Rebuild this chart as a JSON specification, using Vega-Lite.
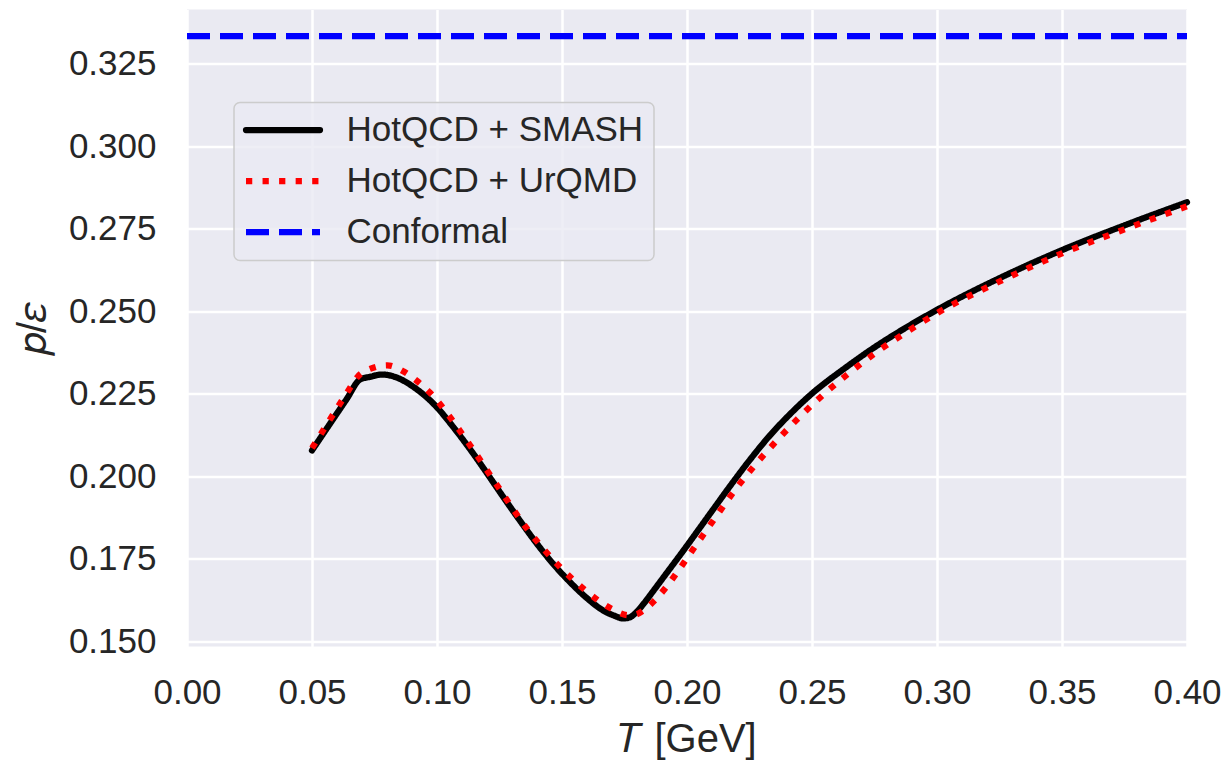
{
  "$schema": "https://vega.github.io/schema/vega-lite/v6.json",
  "width": 1000,
  "height": 637,
  "autosize": {"type": "none"},
  "padding": {"left": 187, "top": 9.5, "right": 43, "bottom": 116.5},
  "background": "white",
  "config": {
    "view": {"fill": "#EAEAF2", "stroke": null},
    "font": "Liberation Sans",
    "axis": {
      "grid": true,
      "gridColor": "#FFFFFF",
      "gridWidth": 2.5,
      "domain": false,
      "ticks": false,
      "labelFlush": false,
      "labelFont": "Liberation Sans",
      "labelFontSize": 35,
      "labelColor": "#262626",
      "titleFont": "Liberation Sans",
      "titleFontSize": 40,
      "titleColor": "#262626",
      "titleFontWeight": "normal"
    },
    "legend": {
      "labelFont": "Liberation Sans",
      "labelFontSize": 35,
      "labelColor": "#262626",
      "labelLimit": 500
    }
  },
  "data": {
    "values": [
      {"series": "HotQCD + SMASH", "T": 0.050, "pe": 0.2078},
      {"series": "HotQCD + SMASH", "T": 0.0572, "pe": 0.2159},
      {"series": "HotQCD + SMASH", "T": 0.0639, "pe": 0.2234},
      {"series": "HotQCD + SMASH", "T": 0.0692, "pe": 0.2293},
      {"series": "HotQCD + SMASH", "T": 0.0732, "pe": 0.2301},
      {"series": "HotQCD + SMASH", "T": 0.0779, "pe": 0.2308},
      {"series": "HotQCD + SMASH", "T": 0.0839, "pe": 0.2299},
      {"series": "HotQCD + SMASH", "T": 0.0905, "pe": 0.2271},
      {"series": "HotQCD + SMASH", "T": 0.0992, "pe": 0.2215},
      {"series": "HotQCD + SMASH", "T": 0.1065, "pe": 0.2149},
      {"series": "HotQCD + SMASH", "T": 0.1132, "pe": 0.2082},
      {"series": "HotQCD + SMASH", "T": 0.1199, "pe": 0.2010},
      {"series": "HotQCD + SMASH", "T": 0.1265, "pe": 0.1937},
      {"series": "HotQCD + SMASH", "T": 0.1332, "pe": 0.1865},
      {"series": "HotQCD + SMASH", "T": 0.1399, "pe": 0.1796},
      {"series": "HotQCD + SMASH", "T": 0.1465, "pe": 0.1734},
      {"series": "HotQCD + SMASH", "T": 0.1532, "pe": 0.1679},
      {"series": "HotQCD + SMASH", "T": 0.1599, "pe": 0.1631},
      {"series": "HotQCD + SMASH", "T": 0.1665, "pe": 0.1593},
      {"series": "HotQCD + SMASH", "T": 0.1710, "pe": 0.1577},
      {"series": "HotQCD + SMASH", "T": 0.1745, "pe": 0.1569},
      {"series": "HotQCD + SMASH", "T": 0.1770, "pe": 0.1572},
      {"series": "HotQCD + SMASH", "T": 0.1795, "pe": 0.1586},
      {"series": "HotQCD + SMASH", "T": 0.1825, "pe": 0.1612},
      {"series": "HotQCD + SMASH", "T": 0.1865, "pe": 0.1652},
      {"series": "HotQCD + SMASH", "T": 0.1920, "pe": 0.1708},
      {"series": "HotQCD + SMASH", "T": 0.1985, "pe": 0.1774},
      {"series": "HotQCD + SMASH", "T": 0.2050, "pe": 0.1842},
      {"series": "HotQCD + SMASH", "T": 0.2111, "pe": 0.1906},
      {"series": "HotQCD + SMASH", "T": 0.2180, "pe": 0.1978},
      {"series": "HotQCD + SMASH", "T": 0.2250, "pe": 0.2048},
      {"series": "HotQCD + SMASH", "T": 0.2330, "pe": 0.2122},
      {"series": "HotQCD + SMASH", "T": 0.2416, "pe": 0.2191},
      {"series": "HotQCD + SMASH", "T": 0.2501, "pe": 0.2251},
      {"series": "HotQCD + SMASH", "T": 0.2631, "pe": 0.2327},
      {"series": "HotQCD + SMASH", "T": 0.2753, "pe": 0.2392},
      {"series": "HotQCD + SMASH", "T": 0.2860, "pe": 0.2443},
      {"series": "HotQCD + SMASH", "T": 0.3000, "pe": 0.2504},
      {"series": "HotQCD + SMASH", "T": 0.3250, "pe": 0.2600},
      {"series": "HotQCD + SMASH", "T": 0.3500, "pe": 0.2685},
      {"series": "HotQCD + SMASH", "T": 0.3750, "pe": 0.2760},
      {"series": "HotQCD + SMASH", "T": 0.4000, "pe": 0.2830},

      {"series": "HotQCD + UrQMD", "T": 0.050, "pe": 0.2085},
      {"series": "HotQCD + UrQMD", "T": 0.0572, "pe": 0.2172},
      {"series": "HotQCD + UrQMD", "T": 0.0645, "pe": 0.2259},
      {"series": "HotQCD + UrQMD", "T": 0.0681, "pe": 0.2300},
      {"series": "HotQCD + UrQMD", "T": 0.0735, "pe": 0.2326},
      {"series": "HotQCD + UrQMD", "T": 0.0801, "pe": 0.2336},
      {"series": "HotQCD + UrQMD", "T": 0.0865, "pe": 0.2318},
      {"series": "HotQCD + UrQMD", "T": 0.0919, "pe": 0.2289},
      {"series": "HotQCD + UrQMD", "T": 0.0969, "pe": 0.2255},
      {"series": "HotQCD + UrQMD", "T": 0.1015, "pe": 0.2216},
      {"series": "HotQCD + UrQMD", "T": 0.1055, "pe": 0.2176},
      {"series": "HotQCD + UrQMD", "T": 0.1132, "pe": 0.2094},
      {"series": "HotQCD + UrQMD", "T": 0.1245, "pe": 0.1967},
      {"series": "HotQCD + UrQMD", "T": 0.1359, "pe": 0.1842},
      {"series": "HotQCD + UrQMD", "T": 0.1492, "pe": 0.1725},
      {"series": "HotQCD + UrQMD", "T": 0.1592, "pe": 0.1655},
      {"series": "HotQCD + UrQMD", "T": 0.1699, "pe": 0.1598},
      {"series": "HotQCD + UrQMD", "T": 0.1765, "pe": 0.1579},
      {"series": "HotQCD + UrQMD", "T": 0.1795, "pe": 0.1581},
      {"series": "HotQCD + UrQMD", "T": 0.1825, "pe": 0.1593},
      {"series": "HotQCD + UrQMD", "T": 0.1870, "pe": 0.1623},
      {"series": "HotQCD + UrQMD", "T": 0.1919, "pe": 0.1666},
      {"series": "HotQCD + UrQMD", "T": 0.1959, "pe": 0.1707},
      {"series": "HotQCD + UrQMD", "T": 0.2034, "pe": 0.1789},
      {"series": "HotQCD + UrQMD", "T": 0.2111, "pe": 0.1872},
      {"series": "HotQCD + UrQMD", "T": 0.2187, "pe": 0.1953},
      {"series": "HotQCD + UrQMD", "T": 0.2271, "pe": 0.2033},
      {"series": "HotQCD + UrQMD", "T": 0.2363, "pe": 0.2111},
      {"series": "HotQCD + UrQMD", "T": 0.2455, "pe": 0.2183},
      {"series": "HotQCD + UrQMD", "T": 0.2554, "pe": 0.2253},
      {"series": "HotQCD + UrQMD", "T": 0.2656, "pe": 0.2317},
      {"series": "HotQCD + UrQMD", "T": 0.2760, "pe": 0.2377},
      {"series": "HotQCD + UrQMD", "T": 0.2875, "pe": 0.2435},
      {"series": "HotQCD + UrQMD", "T": 0.3000, "pe": 0.2494},
      {"series": "HotQCD + UrQMD", "T": 0.3250, "pe": 0.2590},
      {"series": "HotQCD + UrQMD", "T": 0.3500, "pe": 0.2675},
      {"series": "HotQCD + UrQMD", "T": 0.3750, "pe": 0.2748},
      {"series": "HotQCD + UrQMD", "T": 0.4000, "pe": 0.2818},

      {"series": "Conformal", "T": 0.0, "pe": 0.33333},
      {"series": "Conformal", "T": 0.4, "pe": 0.33333}
    ]
  },
  "encoding": {
    "x": {
      "field": "T",
      "type": "quantitative",
      "scale": {"domain": [0, 0.4], "nice": false, "zero": false},
      "axis": {
        "values": [0, 0.05, 0.1, 0.15, 0.2, 0.25, 0.3, 0.35, 0.4],
        "format": ".2f",
        "labelPadding": 29,
        "title": "𝑇 [GeV]",
        "titlePadding": 9
      }
    },
    "y": {
      "field": "pe",
      "type": "quantitative",
      "scale": {"domain": [0.1484, 0.3414], "nice": false, "zero": false},
      "axis": {
        "values": [0.15, 0.175, 0.2, 0.225, 0.25, 0.275, 0.3, 0.325],
        "format": ".3f",
        "labelPadding": 31,
        "title": "𝑝/𝜀",
        "titlePadding": 15
      }
    },
    "color": {
      "field": "series",
      "type": "nominal",
      "scale": {
        "domain": ["HotQCD + SMASH", "HotQCD + UrQMD", "Conformal"],
        "range": ["#000000", "#FF0000", "#0000FF"]
      },
      "legend": {
        "orient": "none",
        "legendX": 47,
        "legendY": 93,
        "title": null,
        "fillColor": "rgba(234,234,242,0.8)",
        "strokeColor": "#CCCCCC",
        "cornerRadius": 6,
        "padding": 10,
        "rowPadding": 15,
        "symbolType": "M-2.96,0H2.96",
        "symbolSize": 625,
        "symbolStrokeWidth": 6.25,
        "symbolOffset": 21.5,
        "labelOffset": 46,
        "encode": {
          "legend": {
            "update": {"strokeWidth": {"value": 1.5}}
          },
          "symbols": {
            "update": {
              "strokeCap": [
                {"test": "datum.label === 'HotQCD + SMASH'", "value": "round"},
                {"value": "butt"}
              ]
            }
          }
        }
      }
    },
    "strokeDash": {
      "field": "series",
      "type": "nominal",
      "scale": {
        "domain": ["HotQCD + SMASH", "HotQCD + UrQMD", "Conformal"],
        "range": [[1, 0], [6.25, 10.3], [23, 10]]
      },
      "legend": null
    }
  },
  "layer": [
    {
      "transform": [{"filter": "datum.series === 'HotQCD + SMASH'"}],
      "mark": {"type": "line", "strokeWidth": 6.25, "strokeCap": "round", "strokeJoin": "round", "interpolate": "monotone"}
    },
    {
      "transform": [{"filter": "datum.series === 'HotQCD + UrQMD'"}],
      "mark": {"type": "line", "strokeWidth": 6.25, "strokeCap": "butt", "interpolate": "monotone"}
    },
    {
      "transform": [{"filter": "datum.series === 'Conformal'"}],
      "mark": {"type": "line", "strokeWidth": 6.25, "strokeCap": "butt"}
    }
  ]
}
